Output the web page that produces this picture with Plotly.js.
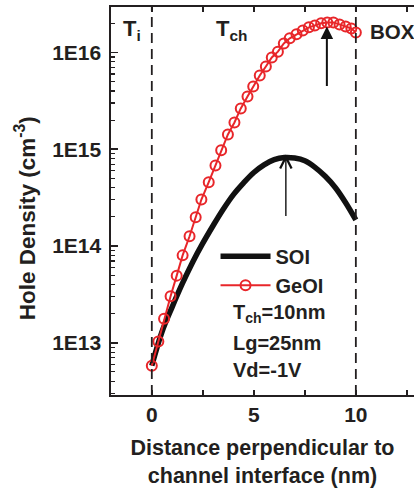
<!DOCTYPE html>
<html><head><meta charset="utf-8">
<script src="https://cdn.plot.ly/plotly-3.0.1.min.js"></script>
<style>html,body{margin:0;padding:0;background:#fff}#chart{width:414px;height:488px}</style>
</head><body><div id="chart"></div>
<script>
// SOI hole density vs distance (nm)
const soiX = [0, 0.5, 1.0, 1.5, 2.0, 2.5, 3.0, 3.5, 4.0, 4.5, 5.0, 5.5, 6.0, 6.5, 7.0, 7.5, 8.0, 8.5, 9.0, 9.5, 10.0];
const soiY = [5.8e12, 1.3e13, 2.35e13, 4.1e13, 6.8e13, 1.07e14, 1.62e14, 2.4e14, 3.4e14, 4.5e14, 5.75e14, 6.9e14, 7.8e14, 8.2e14, 8.1e14, 7.6e14, 6.5e14, 5.25e14, 4.0e14, 2.8e14, 1.86e14];
// GeOI hole density vs distance (nm)
const geoiX = [0, 0.32, 0.6, 0.92, 1.22, 1.51, 1.85, 2.15, 2.43, 2.79, 3.12, 3.4, 3.73, 4.05, 4.36, 4.69, 4.97, 5.29, 5.59, 5.88, 6.18, 6.47, 6.76, 7.09, 7.4, 7.7, 7.99, 8.3, 8.6, 8.9, 9.2, 9.5, 9.78, 10.0];
const geoiY = [5.8e12, 1.03e13, 1.77e13, 3.02e13, 4.94e13, 8.0e13, 1.26e14, 1.98e14, 3.02e14, 4.56e14, 6.78e14, 9.77e14, 1.42e15, 1.89e15, 2.64e15, 3.51e15, 4.45e15, 5.78e15, 7.16e15, 8.88e15, 1.02e16, 1.24e16, 1.40e16, 1.54e16, 1.69e16, 1.82e16, 1.90e16, 2.0e16, 2.04e16, 2.04e16, 1.95e16, 1.86e16, 1.77e16, 1.61e16];
// Peak arrows (x, tip, tail)
const arrowX = [6.57, 8.58];
const arrowTip = [8.8e14, 1.86e16];
const arrowTail = [1.97e14, 4.35e15];
// Region boundaries and labels
const regionBounds = [0, 10];
const regionLabels = ['T<sub>i</sub>', 'T<sub>ch</sub>', 'BOX'];
const regionLabelX = [-0.97, 3.9, 10.6];
const infoLines = ['T<sub>ch</sub>=10nm', 'Lg=25nm', 'Vd=-1V'];
// Ticks
const xTickVals = [0, 5, 10];
const xTickText = ['0', '5', '10'];
const xMinorVals = [2.5, 7.5, 12.5];
const yTickVals = [1e13, 1e14, 1e15, 1e16];
const yTickText = ['1E13', '1E14', '1E15', '1E16'];

const ink = '#231f20';
const red = '#e8262a';
const fam = '"Liberation Sans", Arial, Helvetica, sans-serif';

const minorVals = [];
for (let d = 12; d <= 16; d++) for (let m = 2; m <= 9; m++) minorVals.push(m * Math.pow(10, d));

const traces = [
  {x: soiX, y: soiY, name: 'SOI', mode: 'lines', type: 'scatter',
   line: {color: '#111', width: 5.5, shape: 'spline'}},
  {x: geoiX, y: geoiY, name: 'GeOI', mode: 'lines+markers', type: 'scatter',
   line: {color: red, width: 2},
   marker: {symbol: 'circle-open', size: 10, color: red, line: {width: 2, color: red}}}
];

const shapes = regionBounds.map(b => ({
  type: 'line', xref: 'x', yref: 'paper', x0: b, x1: b, y0: 0, y1: 1,
  line: {color: ink, width: 1.8, dash: '10px,6px'}
}));

const annotations = [];
regionLabels.forEach((t, i) => {
  annotations.push({text: t, x: regionLabelX[i], xref: 'x', y: i === 2 ? 0.937 : 0.94, yref: 'paper',
    xanchor: i === 2 ? 'left' : 'center', yanchor: 'middle', showarrow: false,
    font: {family: fam, size: i === 2 ? 20.5 : 22, weight: 'bold', color: ink}});
});
const infoY = [0.21, 0.134, 0.064];
infoLines.forEach((t, i) => {
  annotations.push({text: t, x: 3.9, xref: 'x', y: infoY[i], yref: 'paper',
    xanchor: 'left', yanchor: 'middle', showarrow: false,
    font: {family: fam, size: 20, weight: 'bold', color: ink}});
});
arrowX.forEach((ax, i) => {
  annotations.push({x: ax, y: Math.log10(arrowTip[i]), xref: 'x', yref: 'y',
    ax: ax, ay: Math.log10(arrowTail[i]), axref: 'x', ayref: 'y',
    showarrow: true, text: '', arrowcolor: '#111',
    arrowhead: i === 0 ? 5 : 2, arrowwidth: i === 0 ? 1.4 : 2, arrowsize: i === 0 ? 1.6 : 1.25});
});
annotations.push({text: 'Hole Density (cm<sup>-3</sup>)', textangle: -90,
  x: -0.283, xref: 'paper', y: 0.456, yref: 'paper', xanchor: 'center', yanchor: 'middle',
  showarrow: false, font: {family: fam, size: 22.5, weight: 'bold', color: ink}});

const layout = {
  width: 414, height: 488,
  margin: {l: 111, r: 0, t: 7, b: 93},
  paper_bgcolor: '#fff', plot_bgcolor: '#fff',
  font: {family: fam, color: ink},
  showlegend: true,
  legend: {x: 0.345, y: 0.408, xanchor: 'left', yanchor: 'top', bgcolor: 'rgba(0,0,0,0)',
    font: {family: fam, size: 20, weight: 'bold', color: ink}, itemwidth: 50, tracegroupgap: 0},
  xaxis: {range: [-2, 12.85], tickmode: 'array', tickvals: xTickVals, ticktext: xTickText,
    ticks: 'inside', ticklen: 5, tickwidth: 1.5, tickcolor: ink,
    minor: {tickmode: 'array', tickvals: xMinorVals, ticks: 'inside', ticklen: 5, tickwidth: 1.5, tickcolor: ink},
    showline: true, linewidth: 1.6, linecolor: ink, mirror: 'ticks',
    showgrid: false, zeroline: false,
    tickfont: {family: fam, size: 21, weight: 'bold', color: ink},
    title: {text: 'Distance perpendicular to<br>channel interface (nm)', standoff: 16,
      font: {family: fam, size: 21.5, weight: 'bold', color: ink}}},
  yaxis: {type: 'log', range: [12.46, 16.47], tickmode: 'array', tickvals: yTickVals, ticktext: yTickText,
    ticks: 'inside', ticklen: 7, tickwidth: 1.5, tickcolor: ink,
    minor: {tickmode: 'array', tickvals: minorVals, ticks: 'inside', ticklen: 4, tickwidth: 1.2, tickcolor: ink},
    showline: true, linewidth: 1.6, linecolor: ink, mirror: false,
    showgrid: false, zeroline: false, ticklabelstandoff: 4,
    tickfont: {family: fam, size: 21, weight: 'bold', color: ink}},
  shapes: shapes,
  annotations: annotations
};

Plotly.newPlot('chart', traces, layout, {displayModeBar: false, staticPlot: true});
</script>
</body></html>
